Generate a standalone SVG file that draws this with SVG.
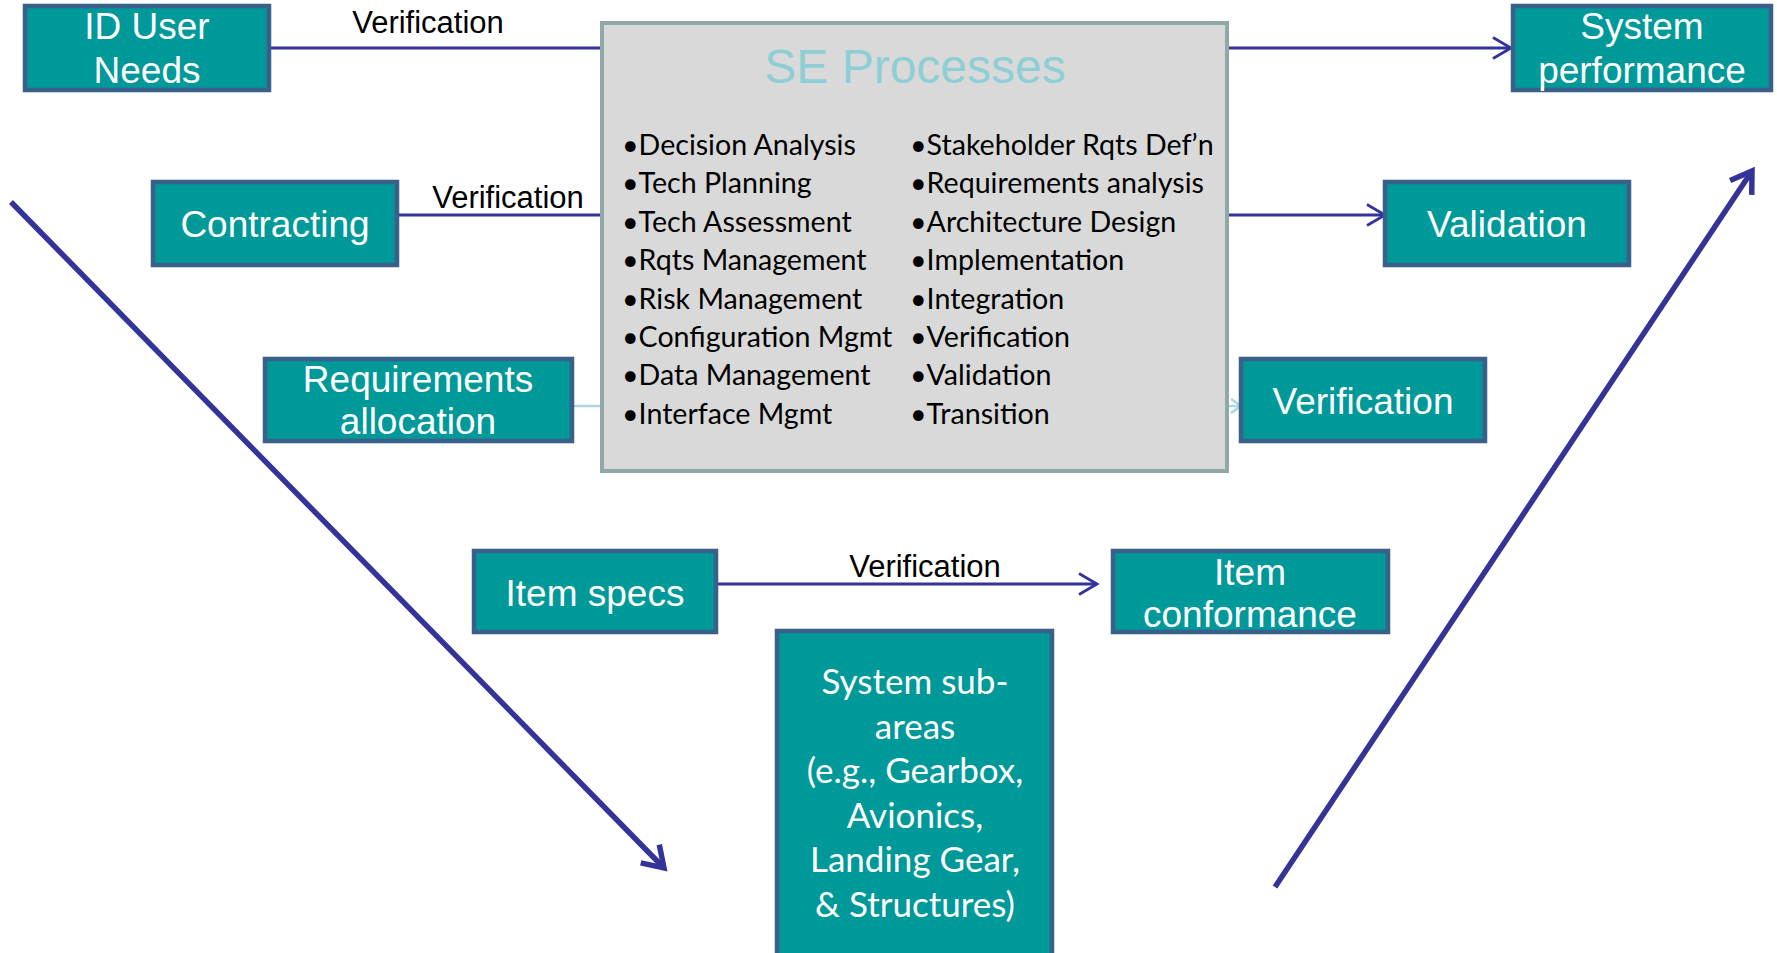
<svg xmlns="http://www.w3.org/2000/svg" width="1777" height="953" viewBox="0 0 1777 953">
<defs>
<style>
.node rect{fill:#009999;stroke:#3a5f8b;stroke-width:4.5}
.nt{font-family:"Liberation Sans",Arial,sans-serif;font-size:37px;fill:#ffffff;text-anchor:middle}
.lbl{font-family:"Liberation Sans",Arial,sans-serif;font-size:31px;fill:#000000;text-anchor:middle}
.bl{font-family:Lato,"Open Sans",sans-serif;font-size:28.6px;fill:#000000}
.sub{font-family:Lato,"Open Sans",sans-serif;font-size:35px;fill:#ffffff;text-anchor:middle}
.c{stroke:#333399;stroke-width:2.8;fill:none}
.cl{stroke:#a8d8dc;stroke-width:2.5;fill:none}
.d{stroke:#333399;stroke-width:5.5;fill:none}
</style>
<marker id="arr" markerUnits="userSpaceOnUse" markerWidth="26" markerHeight="26" refX="21" refY="12" orient="auto"><path d="M3,1.5 L21,12 L3,22.5" fill="none" stroke="#333399" stroke-width="2.8"/></marker>
<marker id="arrl" markerUnits="userSpaceOnUse" markerWidth="16" markerHeight="16" refX="12" refY="8" orient="auto"><path d="M2,1 L12,8 L2,15" fill="none" stroke="#a8d8dc" stroke-width="2.5"/></marker>
<marker id="arrd" markerUnits="userSpaceOnUse" markerWidth="34" markerHeight="34" refX="26" refY="17" orient="auto"><path d="M6,4 L26,17 L6,30" fill="none" stroke="#333399" stroke-width="5.5"/></marker>
</defs>
<rect width="1777" height="953" fill="#ffffff"/>
<g id="connectors">
<line class="c" x1="269" y1="48" x2="602" y2="48"/>
<line class="c" x1="397" y1="215" x2="602" y2="215"/>
<line class="cl" x1="572" y1="406" x2="602" y2="406"/>
<line class="c" x1="1227" y1="48" x2="1511" y2="48" marker-end="url(#arr)"/>
<line class="c" x1="1227" y1="215" x2="1385" y2="215" marker-end="url(#arr)"/>
<line class="cl" x1="1227" y1="406" x2="1241" y2="406" marker-end="url(#arrl)"/>
<line class="c" x1="716" y1="584" x2="1097" y2="584" marker-end="url(#arr)"/>
<line class="d" x1="11" y1="202" x2="664" y2="868" marker-end="url(#arrd)"/>
<line class="d" x1="1275" y1="887" x2="1752" y2="171" marker-end="url(#arrd)"/>
<text class="lbl" x="428" y="33">Verification</text>
<text class="lbl" x="508" y="208">Verification</text>
<text class="lbl" x="925" y="577">Verification</text>
</g>
<g id="se-processes">
<rect x="602" y="23" width="625" height="448" fill="#d9d9d9" stroke="#90a8a8" stroke-width="4"/>
<text x="915" y="83" font-family="Liberation Sans, Arial, sans-serif" font-size="48" fill="#8ecfd6" text-anchor="middle">SE Processes</text>
<text class="bl" x="622" y="155">•Decision Analysis</text>
<text class="bl" x="622" y="193.4">•Tech Planning</text>
<text class="bl" x="622" y="231.8">•Tech Assessment</text>
<text class="bl" x="622" y="270.2">•Rqts Management</text>
<text class="bl" x="622" y="308.6">•Risk Management</text>
<text class="bl" x="622" y="347">•Configuration Mgmt</text>
<text class="bl" x="622" y="385.4">•Data Management</text>
<text class="bl" x="622" y="423.8">•Interface Mgmt</text>
<text class="bl" x="910" y="155">•Stakeholder Rqts Def’n</text>
<text class="bl" x="910" y="193.4">•Requirements analysis</text>
<text class="bl" x="910" y="231.8">•Architecture Design</text>
<text class="bl" x="910" y="270.2">•Implementation</text>
<text class="bl" x="910" y="308.6">•Integration</text>
<text class="bl" x="910" y="347">•Verification</text>
<text class="bl" x="910" y="385.4">•Validation</text>
<text class="bl" x="910" y="423.8">•Transition</text>
</g>
<g id="id-user-needs" class="node"><rect x="25" y="6" width="244" height="84"/><text class="nt" x="147" y="39">ID User</text><text class="nt" x="147" y="83">Needs</text></g>
<g id="contracting" class="node"><rect x="153" y="182" width="244" height="83"/><text class="nt" x="275" y="237">Contracting</text></g>
<g id="requirements-allocation" class="node"><rect x="265" y="359" width="307" height="82"/><text class="nt" x="418" y="392">Requirements</text><text class="nt" x="418" y="434">allocation</text></g>
<g id="system-performance" class="node"><rect x="1513" y="6" width="258" height="84"/><text class="nt" x="1642" y="39">System</text><text class="nt" x="1642" y="83">performance</text></g>
<g id="validation" class="node"><rect x="1385" y="182" width="244" height="83"/><text class="nt" x="1507" y="237">Validation</text></g>
<g id="verification" class="node"><rect x="1241" y="359" width="244" height="82"/><text class="nt" x="1363" y="414">Verification</text></g>
<g id="item-specs" class="node"><rect x="474" y="551" width="242" height="81"/><text class="nt" x="595" y="606">Item specs</text></g>
<g id="item-conformance" class="node"><rect x="1113" y="551" width="275" height="81"/><text class="nt" x="1250" y="585">Item</text><text class="nt" x="1250" y="627">conformance</text></g>
<g id="system-sub-areas" class="node"><rect x="777" y="631" width="275" height="330"/>
<text class="sub" x="915" y="694">System sub-</text>
<text class="sub" x="915" y="738.5">areas</text>
<text class="sub" x="915" y="783">(e.g., Gearbox,</text>
<text class="sub" x="915" y="827.5">Avionics,</text>
<text class="sub" x="915" y="872">Landing Gear,</text>
<text class="sub" x="915" y="916.5">&amp; Structures)</text>
</g>
</svg>
